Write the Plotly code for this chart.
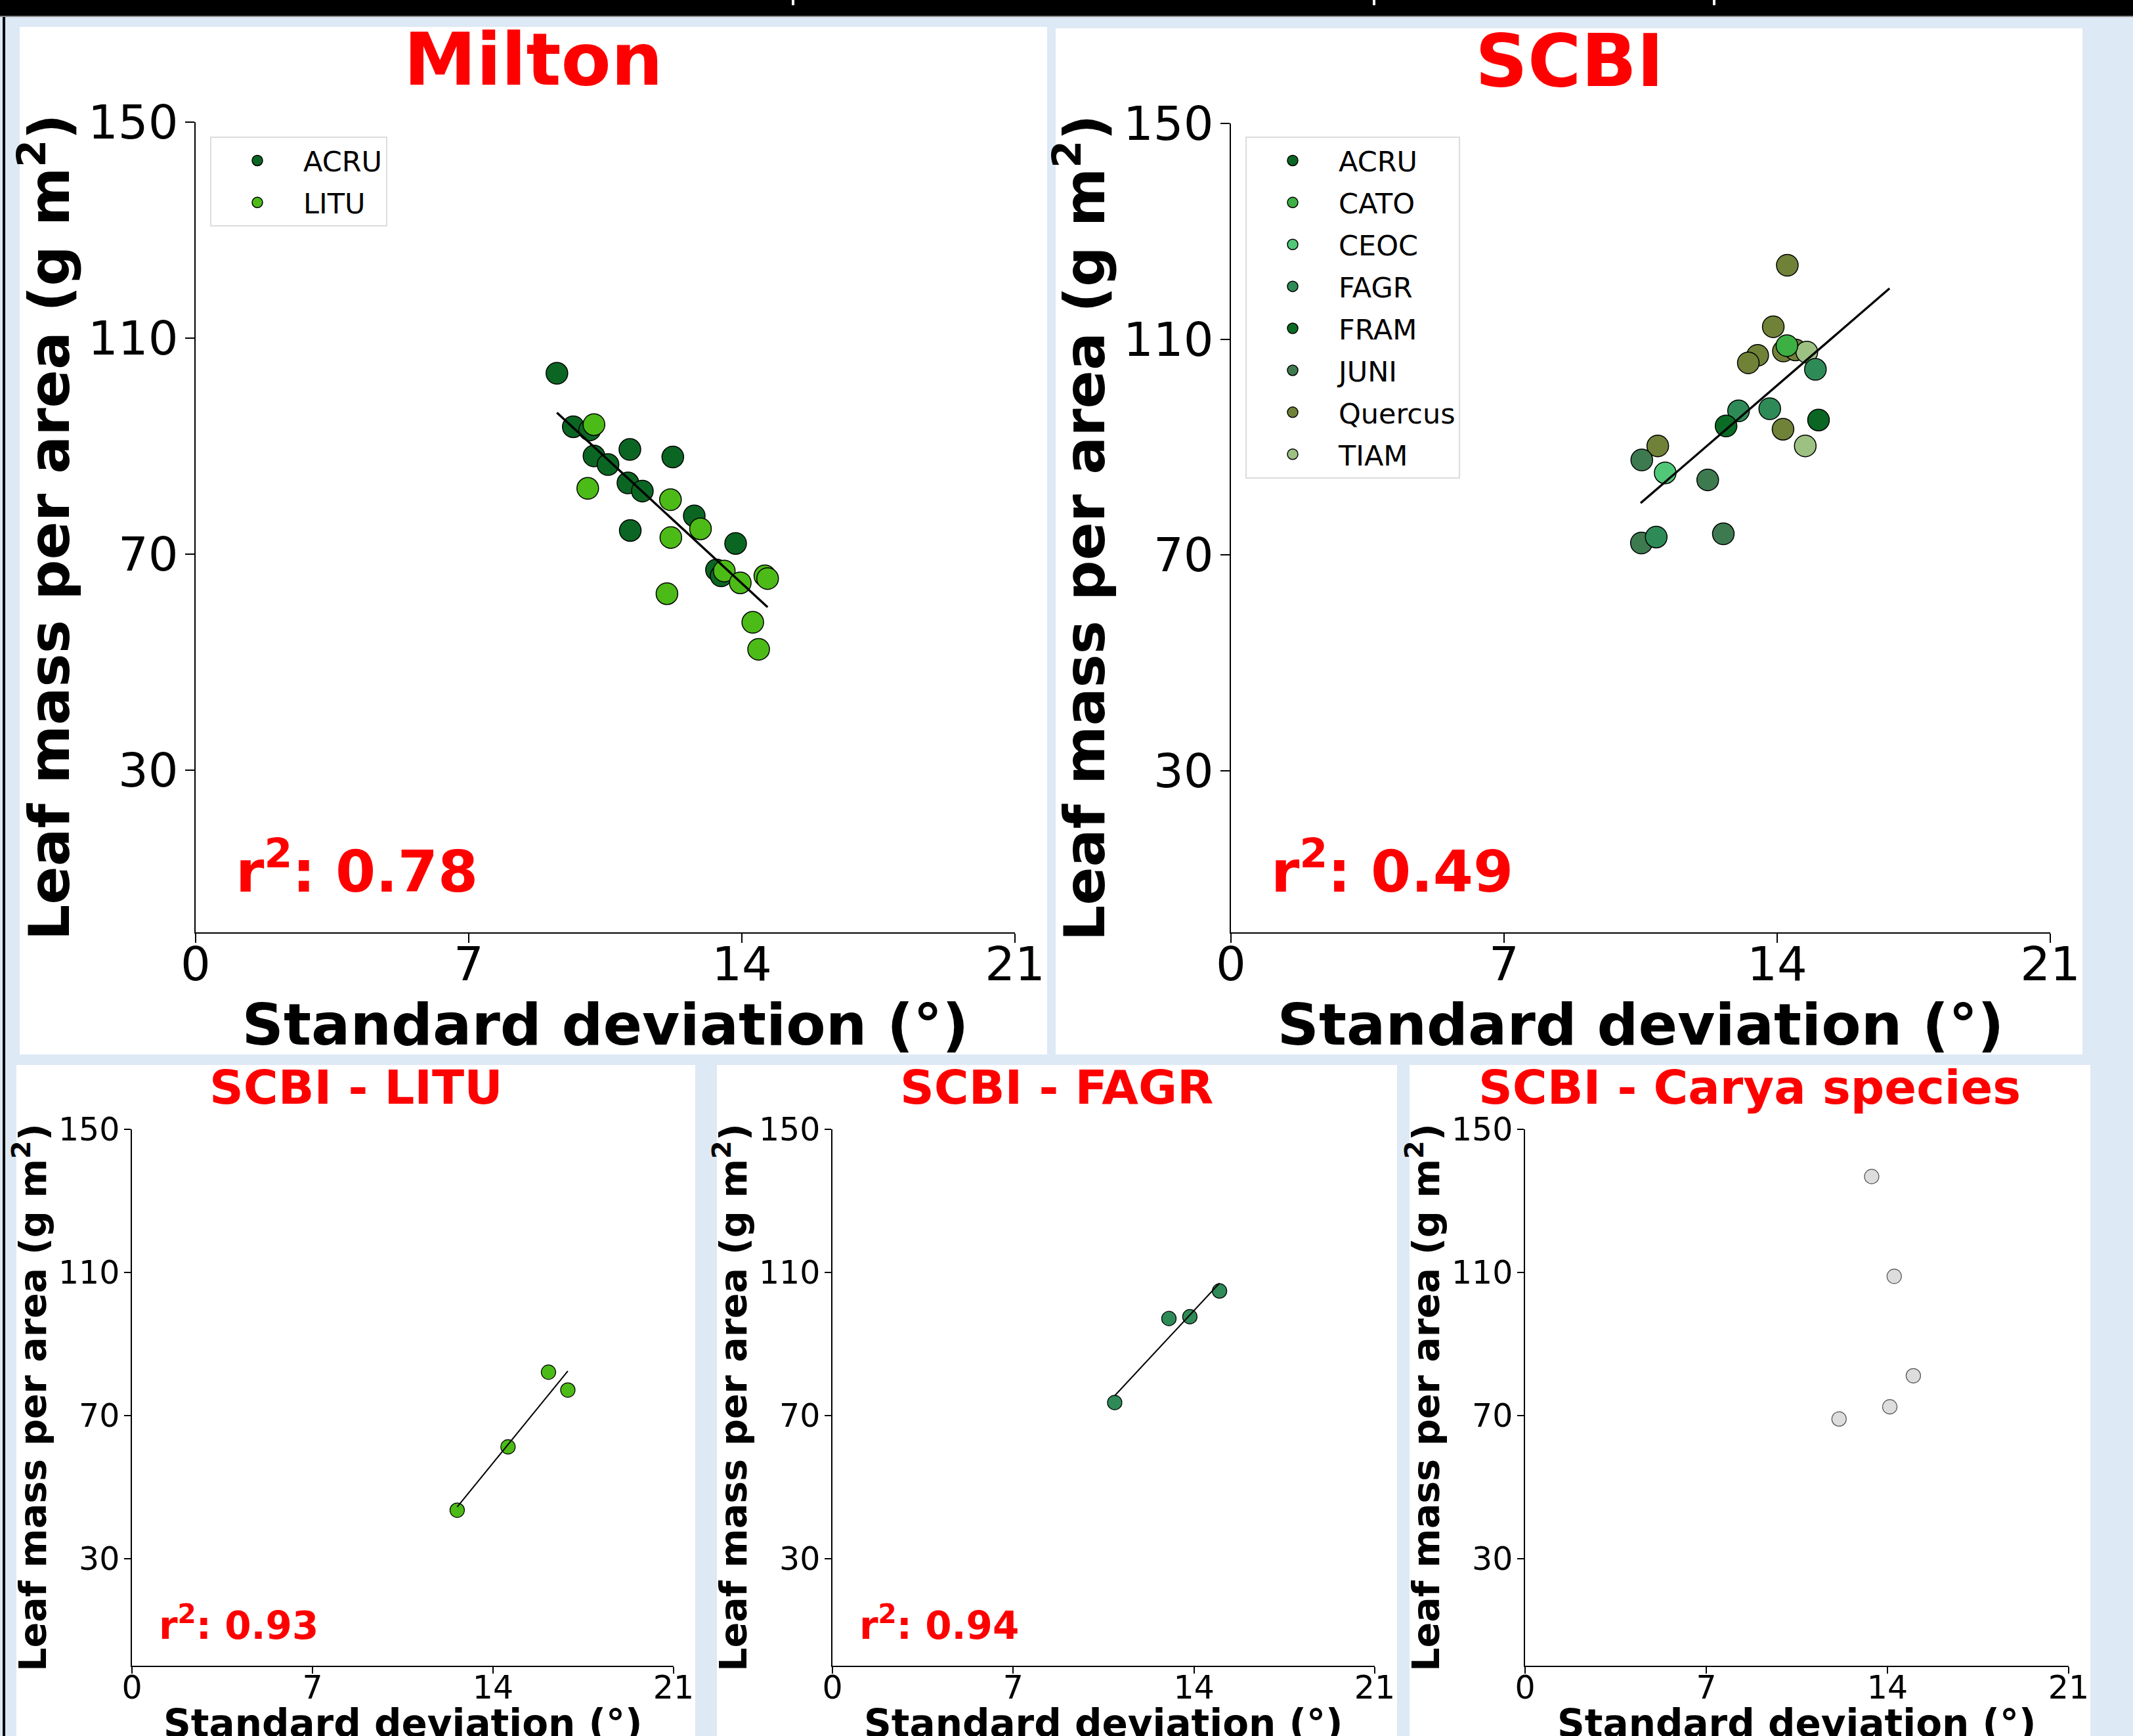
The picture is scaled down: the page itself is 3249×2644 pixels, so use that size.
import plotly.graph_objects as go

W, H = 3249, 2644
F = "DejaVu Sans"

# ---------------- data ----------------
# Milton
milton_acru_x = [9.26, 9.68, 10.10, 10.21, 10.57, 11.13, 11.08, 11.45, 12.23, 11.14, 12.78, 13.84, 13.35, 13.47]
milton_acru_y = [103.5, 93.6, 93.0, 88.2, 86.6, 89.4, 83.2, 81.7, 88.0, 74.4, 77.1, 72.0, 67.1, 66.0]
milton_litu_x = [10.21, 10.05, 12.17, 12.94, 12.18, 13.55, 13.96, 14.59, 14.66, 12.08, 14.28, 14.43]
milton_litu_y = [94.0, 82.2, 80.1, 74.7, 73.1, 66.9, 64.7, 66.0, 65.5, 62.7, 57.4, 52.4]
milton_fit_x = [9.26, 14.66]
milton_fit_y = [96.2, 60.2]
milton_r2 = "0.78"

# SCBI (per species)
scbi_species = ["ACRU", "CATO", "CEOC", "FAGR", "FRAM", "JUNI", "Quercus", "TIAM"]
scbi_colors = ["#0b6623", "#3cb043", "#50c878", "#2e8b57", "#0a6b24", "#3e7a50", "#708238", "#9dc183"]
scbi_draw_order = ["Quercus", "JUNI", "TIAM", "FAGR", "CATO", "CEOC", "ACRU", "FRAM"]
scbi_x = {
    "ACRU": [15.06],
    "CATO": [14.25],
    "CEOC": [11.13],
    "FAGR": [14.98, 13.01, 13.81, 10.90],
    "FRAM": [12.69],
    "JUNI": [10.53, 12.22, 10.52, 12.62],
    "Quercus": [14.26, 13.90, 13.50, 13.26, 14.16, 14.47, 14.15, 10.94],
    "TIAM": [14.76, 14.72],
}
scbi_y = {
    "ACRU": [95.0],
    "CATO": [108.8],
    "CEOC": [85.2],
    "FAGR": [104.4, 96.7, 97.1, 73.3],
    "FRAM": [93.9],
    "JUNI": [87.6, 83.9, 72.2, 73.9],
    "Quercus": [123.7, 112.3, 107.0, 105.6, 107.8, 108.0, 93.3, 90.2],
    "TIAM": [107.6, 90.2],
}
scbi_fit_x = [10.50, 16.88]
scbi_fit_y = [79.6, 119.4]
scbi_r2 = "0.49"

# SCBI - LITU
litu_x = [12.61, 14.58, 16.15, 16.90]
litu_y = [43.5, 61.2, 82.1, 77.1]
litu_fit_x = [12.61, 16.90]
litu_fit_y = [44.4, 82.4]
litu_r2 = "0.93"

# SCBI - FAGR
fagr_x = [10.93, 13.03, 13.84, 14.99]
fagr_y = [73.6, 97.1, 97.6, 104.8]
fagr_fit_x = [10.93, 14.99]
fagr_fit_y = [75.5, 107.0]
fagr_r2 = "0.94"

# SCBI - Carya species
carya_x = [13.39, 14.26, 15.00, 14.09, 12.13]
carya_y = [136.8, 108.9, 81.1, 72.4, 69.0]

x_ticks = [0, 7, 14, 21]
y_ticks = [30, 70, 110, 150]
x_label = "<b>Standard deviation (°)</b>"
y_label = "<b>Leaf mass per area (g m<sup>2</sup>)</b>"

LITU_COLOR = "#4cbb17"
ACRU_COLOR = "#0b6623"
FAGR_COLOR = "#2e8b57"

# ---------------- helpers ----------------
def px_x(p):
    return p / W

def px_y(p):
    return 1 - p / H

fig = go.Figure()

BIG = dict(msize=33, mline=1.5, lw=3.4)
SMALL = dict(msize=22, mline=1.2, lw=2.0)

def scatter(x, y, color, name, xa, ya, style, legend=None, showlegend=False, rank=None, group=None, edge="black"):
    kw = {}
    if legend:
        kw["legend"] = legend
    if rank is not None:
        kw["legendrank"] = rank
    if group:
        kw["legendgroup"] = group
    fig.add_trace(go.Scatter(
        x=x, y=y, mode="markers", name=name, xaxis=xa, yaxis=ya,
        showlegend=showlegend,
        marker=dict(size=style["msize"], color=color, line=dict(color=edge, width=style["mline"])),
        cliponaxis=False, **kw))

def fitline(x, y, xa, ya, style):
    fig.add_trace(go.Scatter(x=x, y=y, mode="lines", xaxis=xa, yaxis=ya, showlegend=False,
                             line=dict(color="black", width=style["lw"]), hoverinfo="skip"))

# Milton
scatter(milton_acru_x, milton_acru_y, ACRU_COLOR, "ACRU", "x", "y", BIG, legend="legend",
        showlegend=True, rank=1, group="m_acru")
scatter(milton_litu_x, milton_litu_y, LITU_COLOR, "LITU", "x", "y", BIG, legend="legend",
        showlegend=True, rank=2, group="m_litu")
fitline(milton_fit_x, milton_fit_y, "x", "y", BIG)

# SCBI
for sp in scbi_draw_order:
    i = scbi_species.index(sp)
    scatter(scbi_x[sp], scbi_y[sp], scbi_colors[i], sp, "x2", "y2", BIG, legend="legend2",
            showlegend=True, rank=i + 1, group="s_" + sp)
fitline(scbi_fit_x, scbi_fit_y, "x2", "y2", BIG)

# bottom panels
scatter(litu_x, litu_y, LITU_COLOR, "LITU", "x3", "y3", SMALL)
fitline(litu_fit_x, litu_fit_y, "x3", "y3", SMALL)
scatter(fagr_x, fagr_y, FAGR_COLOR, "FAGR", "x4", "y4", SMALL)
fitline(fagr_fit_x, fagr_fit_y, "x4", "y4", SMALL)
scatter(carya_x, carya_y, "#dddddd", "Carya", "x5", "y5", SMALL, edge="#555555")

# ---------------- axes ----------------
def xaxis(d0, d1, anchor, tsize, tlen, lw, lsize, standoff, lab_shift, with_title=True):
    ax = dict(domain=[px_x(d0), px_x(d1)], anchor=anchor, range=[0, 21], tickvals=x_ticks,
              ticks="outside", ticklen=tlen, tickwidth=lw, tickcolor="black", automargin=False,
              ticklabelstandoff=lab_shift,
              showline=True, linecolor="black", linewidth=lw, showgrid=False, zeroline=False,
              tickfont=dict(family=F, size=tsize, color="black"))
    if with_title:
        ax["title"] = dict(text=x_label, font=dict(family=F, size=lsize, color="black"), standoff=standoff)
    return ax

def yaxis(p0, p1, anchor, tsize, tlen, lw, lsize, standoff, lab_shift):
    return dict(domain=[px_y(p1), px_y(p0)], anchor=anchor, range=[0, 150], tickvals=y_ticks,
                ticks="outside", ticklen=tlen, tickwidth=lw, tickcolor="black", automargin=False,
                ticklabelstandoff=lab_shift,
                showline=True, linecolor="black", linewidth=lw, showgrid=False, zeroline=False,
                tickfont=dict(family=F, size=tsize, color="black"),
                title=dict(text=y_label, font=dict(family=F, size=lsize, color="black"), standoff=standoff))

TOP_T, TOP_L, TOP_LW = 72, 14, 2.2
BOT_T, BOT_L, BOT_LW = 49, 10, 1.5
TOP_XLAB, TOP_YLAB = 88, 86
BOT_XLAB, BOT_YLAB = 58, 57

layout_axes = dict(
    xaxis=xaxis(298, 1546, "y", TOP_T, TOP_L, TOP_LW, TOP_XLAB, 0, -30),
    yaxis=yaxis(186, 1420, "x", TOP_T, TOP_L, TOP_LW, TOP_YLAB, 0, -4),
    xaxis2=xaxis(1875, 3123, "y2", TOP_T, TOP_L, TOP_LW, TOP_XLAB, 0, -30),
    yaxis2=yaxis(188, 1420, "x2", TOP_T, TOP_L, TOP_LW, TOP_YLAB, 0, -4),
    # the bottom x titles sit on the figure's lower edge (cut off in the original),
    # so they are placed as annotations below
    xaxis3=xaxis(201, 1026, "y3", BOT_T, BOT_L, BOT_LW, BOT_XLAB, 0, -21, with_title=False),
    yaxis3=yaxis(1720, 2537, "x3", BOT_T, BOT_L, BOT_LW, BOT_YLAB, 0, -3),
    xaxis4=xaxis(1268, 2094, "y4", BOT_T, BOT_L, BOT_LW, BOT_XLAB, 0, -21, with_title=False),
    yaxis4=yaxis(1720, 2537, "x4", BOT_T, BOT_L, BOT_LW, BOT_YLAB, 0, -3),
    xaxis5=xaxis(2323, 3151, "y5", BOT_T, BOT_L, BOT_LW, BOT_XLAB, 0, -21, with_title=False),
    yaxis5=yaxis(1720, 2537, "x5", BOT_T, BOT_L, BOT_LW, BOT_YLAB, 0, -3),
)

# ---------------- background shapes ----------------
shapes = []
def rect(x0, y0, x1, y1, color):
    shapes.append(dict(type="rect", xref="paper", yref="paper", x0=px_x(x0), x1=px_x(x1),
                       y0=px_y(y1), y1=px_y(y0), fillcolor=color, layer="below",
                       line=dict(width=0)))

rect(0, 0, W, 24, "black")
rect(0, 24, W, 26, "#8a8a8a")
rect(4, 26, 8, H, "black")
# white panels
rect(30, 41, 1595, 1606, "white")
rect(1608, 43, 3172, 1606, "white")
rect(25, 1622, 1059, H + 5, "white")
rect(1092, 1622, 2128, H + 5, "white")
rect(2147, 1622, 3184, H + 5, "white")
# small white glyph fragments visible in the black band
for xx in [1208, 2093, 2611]:
    rect(xx - 2, 0, xx + 2, 8, "white")

# ---------------- annotations ----------------
ann = []
def title(text, cx, cy, size):
    ann.append(dict(text="<b>%s</b>" % text, x=px_x(cx), y=px_y(cy), xref="paper", yref="paper",
                    xanchor="center", yanchor="middle", showarrow=False,
                    font=dict(family=F, size=size, color="red")))

title("Milton", 812, 90, 111)
title("SCBI", 2390, 92, 111)
title("SCBI - LITU", 542, 1656, 72)
title("SCBI - FAGR", 1610, 1656, 72)
title("SCBI - Carya species", 2665, 1656, 72)

def r2(val, xa, ya, xv, yv, size):
    ann.append(dict(text="<b>r<sup>2</sup>: %s</b>" % val, x=xv, y=yv, xref=xa, yref=ya,
                    xanchor="left", yanchor="middle", showarrow=False,
                    font=dict(family=F, size=size, color="red")))

r2(milton_r2, "x", "y", 1.0, 12.0, 88)
r2(scbi_r2, "x2", "y2", 1.0, 12.0, 88)
r2(litu_r2, "x3", "y3", 1.0, 12.0, 58)
r2(fagr_r2, "x4", "y4", 1.0, 12.0, 58)

# bottom x-axis titles
for xa in ["x3", "x4", "x5"]:
    ann.append(dict(text=x_label, x=0.5, xref=xa + " domain", y=px_y(2589), yref="paper",
                    xanchor="center", yanchor="top", showarrow=False,
                    font=dict(family=F, size=BOT_XLAB, color="black")))

legend_style = dict(xanchor="left", yanchor="top", bgcolor="white", bordercolor="#dcdcdc",
                    borderwidth=2, font=dict(family=F, size=43, color="black"),
                    itemwidth=130, traceorder="grouped", tracegroupgap=5)

fig.update_layout(
    width=W, height=H, margin=dict(l=0, r=0, t=0, b=0, autoexpand=False),
    paper_bgcolor="#dde9f5", plot_bgcolor="rgba(0,0,0,0)",
    shapes=shapes, annotations=ann,
    legend=dict(x=px_x(320), y=px_y(208), **legend_style),
    legend2=dict(x=px_x(1897), y=px_y(208), **legend_style),
    **layout_axes,
)

fig.write_html("out.html")
